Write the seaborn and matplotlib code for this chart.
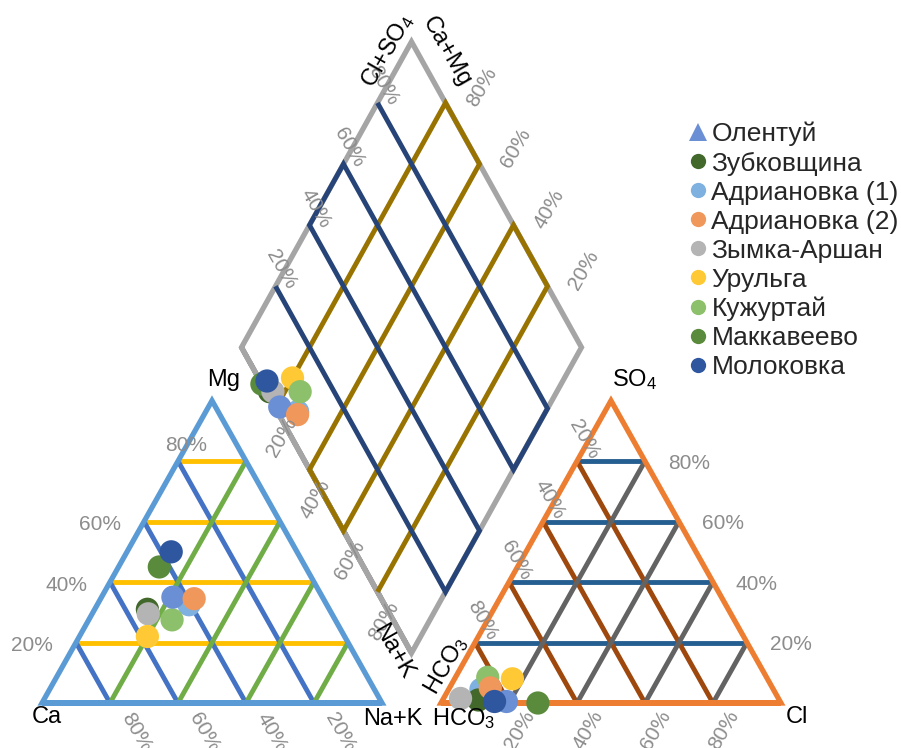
import numpy as np
import pandas as pd
import matplotlib
matplotlib.use('Agg')
import matplotlib.pyplot as plt
from matplotlib.lines import Line2D
import seaborn as sns

# ---- data (percent) ----
samples = ['Олентуй', 'Зубковщина', 'Адриановка (1)', 'Адриановка (2)', 'Зымка-Аршан',
           'Урульга', 'Кужуртай', 'Маккавеево', 'Молоковка']
colors = ['#6B8FD4', '#43682B', '#7EB0E0', '#F0975C', '#B4B4B4',
          '#FFC935', '#8DC06A', '#5A8B3C', '#2F57A0']

# cations
ca = [44, 53.5, 40.5, 38, 54, 58, 48, 43, 37]
mg = [35, 31, 32.5, 34.5, 29.5, 22, 27.5, 45, 50]
na_k = [21, 15.5, 27, 27.5, 16.5, 20, 24.5, 12, 13]
# anions
hco3 = [80.5, 88.5, 86, 83, 93.5, 75, 82, 71.5, 84]
so4 = [0.5, 1, 4.5, 5, 1.5, 8, 8.5, 0, 0.5]
cl = [19, 10.5, 9.5, 12, 5, 17, 9.5, 28.5, 15.5]
# Cl+SO4 as plotted in the diamond
cl_so4_dia = [1.5, 1, 6, 5.5, 2, 10, 10, 0, 2]

draw_order = ['Адриановка (1)', 'Зубковщина', 'Маккавеево', 'Зымка-Аршан', 'Урульга',
              'Кужуртай', 'Олентуй', 'Адриановка (2)', 'Молоковка']
ticks = [0.2, 0.4, 0.6, 0.8]

# ---- geometry ----
H = np.sqrt(3) / 2
G = 0.1735      # gap between triangles
OX = 1 + G      # left corner of the anion triangle
YB = 0.1432     # height of the diamond bottom vertex
HD = 0.8755     # half height of the diamond


def cat_xy(c, m, n):
    t = c + m + n
    return n / t + m / t / 2, m / t * H


def an_xy(h, s, c):
    t = h + s + c
    return OX + c / t + s / t / 2, s / t * H


def dia_xy(n, cs):
    lx, ly = 1 + G / 2 - 0.5, YB + HD
    return lx + cs / 2 + n / 2, ly + cs * HD - n * HD


rows = []
for i, name in enumerate(samples):
    x, y = cat_xy(ca[i], mg[i], na_k[i])
    rows.append((name, 'cat', x, y))
    x, y = an_xy(hco3[i], so4[i], cl[i])
    rows.append((name, 'an', x, y))
    x, y = dia_xy(na_k[i] / 100, cl_so4_dia[i] / 100)
    rows.append((name, 'dia', x, y))
df = pd.DataFrame(rows, columns=['sample', 'panel', 'x', 'y'])
df['order'] = df['sample'].map({s: k for k, s in enumerate(draw_order)})
df = df.sort_values(['panel', 'order'])

sns.set_theme(style='white')
plt.rcParams['font.family'] = ['Liberation Sans', 'DejaVu Sans']
plt.rcParams['mathtext.fontset'] = 'custom'
plt.rcParams['mathtext.rm'] = 'Liberation Sans'
plt.rcParams['mathtext.default'] = 'regular'

fig = plt.figure(figsize=(9.01, 7.48), dpi=100)
ax = fig.add_axes([0, 0, 1, 1])
ax.set_xlim(-42 / 340, (901 - 42) / 340)
ax.set_ylim((703 - 748) / 349.1, 703 / 349.1)
ax.axis('off')

LW = 3.5


def line(pts, color, lw=LW, z=2):
    pts = np.array(pts)
    ax.plot(pts[:, 0], pts[:, 1], color=color, lw=lw, zorder=z,
            solid_capstyle='butt', solid_joinstyle='miter')


# cation triangle
for t in ticks:
    line([cat_xy(1 - t, t, 0), cat_xy(0, t, 1 - t)], '#FFC000')
for t in ticks:
    line([cat_xy(t, 1 - t, 0), cat_xy(t, 0, 1 - t)], '#4472C4')
for t in ticks:
    line([cat_xy(1 - t, 0, t), cat_xy(0, 1 - t, t)], '#70AD47')
line([cat_xy(1, 0, 0), cat_xy(0, 0, 1), cat_xy(0, 1, 0), cat_xy(1, 0, 0), cat_xy(0, 0, 1)],
     '#5B9BD5', lw=3.8, z=3)

# anion triangle
for t in ticks:
    line([an_xy(1 - t, t, 0), an_xy(0, t, 1 - t)], '#255E91')
for t in ticks:
    line([an_xy(t, 1 - t, 0), an_xy(t, 0, 1 - t)], '#9E480E')
for t in ticks:
    line([an_xy(1 - t, 0, t), an_xy(0, 1 - t, t)], '#636363')
line([an_xy(1, 0, 0), an_xy(0, 0, 1), an_xy(0, 1, 0), an_xy(1, 0, 0), an_xy(0, 0, 1)],
     '#ED7D31', lw=3.8, z=3)

# diamond
line([dia_xy(0, 0), dia_xy(1, 0), dia_xy(1, 1), dia_xy(0, 1), dia_xy(0, 0), dia_xy(1, 0)],
     '#A5A5A5', lw=3.8, z=1)
gold = []
for k, n in enumerate(ticks):
    ends = [dia_xy(n, 0), dia_xy(n, 1)]
    gold += ends if k % 2 == 0 else ends[::-1]
line(gold, '#997300')
navy = []
for k, c in enumerate(ticks):
    ends = [dia_xy(0, c), dia_xy(1, c)]
    navy += ends if k % 2 == 0 else ends[::-1]
line(navy, '#264478')

# samples
sns.scatterplot(data=df, x='x', y='y', hue='sample', palette=dict(zip(samples, colors)),
                s=280, linewidth=0, legend=False, ax=ax, zorder=5)
ax.set_xlabel('')
ax.set_ylabel('')

GRAY = '#8C8C8C'
TF = 15
LF = 17


def lab(txt, xy, off, rot=0, color=GRAY, size=TF, ha='center'):
    ax.annotate(txt, xy=xy, xytext=off, textcoords='offset pixels', ha=ha, va='center',
                rotation=rot, rotation_mode='anchor', color=color, fontsize=size, zorder=6)


def pct(v):
    return f'{round(v * 100)}%'


for t in ticks:
    if t == 0.8:
        lab(pct(t), cat_xy(1 - t, t, 0), (29, 16), ha='right')
    else:
        lab(pct(t), cat_xy(1 - t, t, 0), (-23, -3), ha='right')
    lab(pct(1 - t), cat_xy(1 - t, 0, t), (26, -29), rot=-60)
    lab(pct(t), an_xy(0, t, 1 - t), (23, -2), ha='left')
    lab(pct(t), an_xy(1 - t, 0, t), (11, -27), rot=60)
    lab(pct(1 - t), an_xy(1 - t, t, 0), (7, 22), rot=-60)
    lab(pct(t), dia_xy(0, t), (6, 17), rot=-60)
    lab(pct(1 - t), dia_xy(t, 1), (36, 16), rot=60)
    lab(pct(t), dia_xy(t, 0), (6, -29), rot=60)

lab('Mg', cat_xy(0, 1, 0), (12, 21), color='black', size=LF)
lab('Ca', cat_xy(1, 0, 0), (5, -14), color='black', size=LF)
lab('Na+K', cat_xy(0, 0, 1), (11, -16), color='black', size=LF)
lab('SO$_4$', an_xy(0, 1, 0), (24, 21), color='black', size=LF)
lab('Cl', an_xy(0, 0, 1), (16, -14), color='black', size=LF)
lab('HCO$_3$', an_xy(1, 0, 0), (23, -16), color='black', size=LF)
lab('Cl+SO$_4$', dia_xy(0, 1), (-24, -9), rot=60, color='black', size=LF)
lab('Ca+Mg', dia_xy(0, 1), (35, -10), rot=-60, color='black', size=LF)
lab('Na+K', dia_xy(1, 0), (-18, 1), rot=-60, color='black', size=LF)
lab('HCO$_3$', dia_xy(1, 0), (35, -12), rot=60, color='black', size=LF)

handles = [Line2D([], [], ls='', marker='^' if k == 0 else 'o', color=c,
                  markersize=13 if k == 0 else 11, markeredgewidth=0)
           for k, c in enumerate(colors)]
fig.legend(handles, samples, loc='upper left', bbox_to_anchor=(689 / 901, 1 - 122 / 748),
           frameon=False, fontsize=19, handlelength=0.7, handletextpad=0.15,
           labelspacing=0.19, borderpad=0, borderaxespad=0)

fig.savefig('out.png', dpi=100)
